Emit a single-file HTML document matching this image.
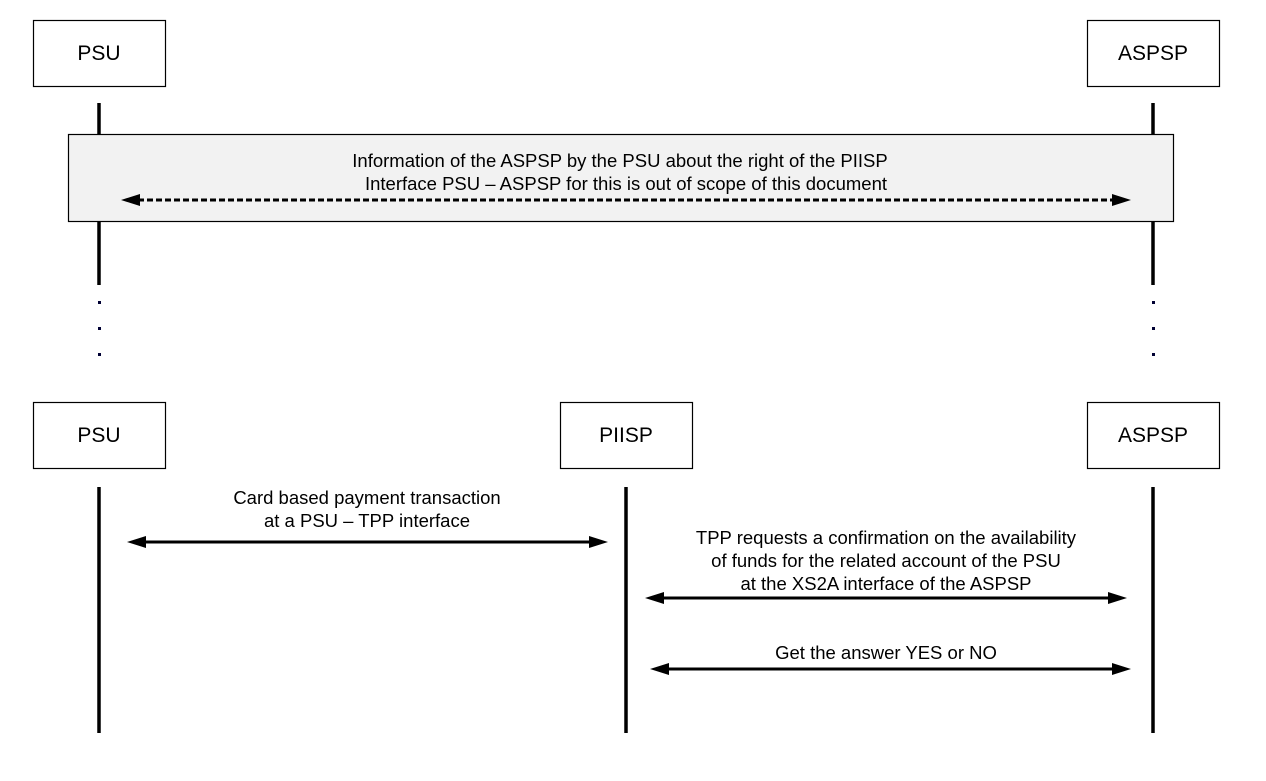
<!DOCTYPE html>
<html><head><style>body{margin:0;background:#fff}</style></head><body>
<svg width="1266" height="776" xmlns="http://www.w3.org/2000/svg" font-family="Liberation Sans, Arial, sans-serif" font-size="18.5">
<rect width="1266" height="776" fill="#fff"/>
<g fill="#fff" stroke="#000" stroke-width="1.2">
<rect x="33.5" y="20.5" width="132" height="66"/>
<rect x="1087.5" y="20.5" width="132" height="66"/>
<rect x="33.5" y="402.5" width="132" height="66"/>
<rect x="560.5" y="402.5" width="132" height="66"/>
<rect x="1087.5" y="402.5" width="132" height="66"/>
</g>
<g font-size="21" text-anchor="middle">
<text x="99" y="60">PSU</text>
<text x="1153" y="60">ASPSP</text>
<text x="99" y="442">PSU</text>
<text x="626" y="442">PIISP</text>
<text x="1153" y="442">ASPSP</text>
</g>
<g stroke="#000" stroke-width="3.5">
<line x1="99" y1="103" x2="99" y2="285"/>
<line x1="1153" y1="103" x2="1153" y2="285"/>
<line x1="99" y1="487" x2="99" y2="733"/>
<line x1="626" y1="487" x2="626" y2="733"/>
<line x1="1153" y1="487" x2="1153" y2="733"/>
</g>
<g fill="#000033">
<rect x="98" y="301" width="3" height="3"/><rect x="98" y="327" width="3" height="3"/><rect x="98" y="353" width="3" height="3"/>
<rect x="1152" y="301" width="3" height="3"/><rect x="1152" y="327" width="3" height="3"/><rect x="1152" y="353" width="3" height="3"/>
</g>
<rect x="68.5" y="134.5" width="1105" height="87" fill="#f2f2f2" stroke="#000" stroke-width="1.2"/>
<g text-anchor="middle">
<text x="620" y="167">Information of the ASPSP by the PSU about the right of the PIISP</text>
<text x="626" y="190">Interface PSU – ASPSP for this is out of scope of this document</text>
<text x="367" y="504">Card based payment transaction</text>
<text x="367" y="527">at a PSU – TPP interface</text>
<text x="886" y="544">TPP requests a confirmation on the availability</text>
<text x="886" y="567">of funds for the related account of the PSU</text>
<text x="886" y="590">at the XS2A interface of the ASPSP</text>
<text x="886" y="659">Get the answer YES or NO</text>
</g>
<line x1="138" y1="200" x2="1116" y2="200" stroke="#000" stroke-width="3" stroke-dasharray="6,3"/>
<polygon points="121,200 140,194 140,206" fill="#000"/>
<polygon points="1131,200 1112,194 1112,206" fill="#000"/>
<g stroke="#000" stroke-width="3">
<line x1="140" y1="542" x2="595" y2="542"/>
<line x1="660" y1="598" x2="1112" y2="598"/>
<line x1="665" y1="669" x2="1116" y2="669"/>
</g>
<g fill="#000">
<polygon points="127,542 146,536 146,548"/><polygon points="608,542 589,536 589,548"/>
<polygon points="645,598 664,592 664,604"/><polygon points="1127,598 1108,592 1108,604"/>
<polygon points="650,669 669,663 669,675"/><polygon points="1131,669 1112,663 1112,675"/>
</g>
</svg>
</body></html>
